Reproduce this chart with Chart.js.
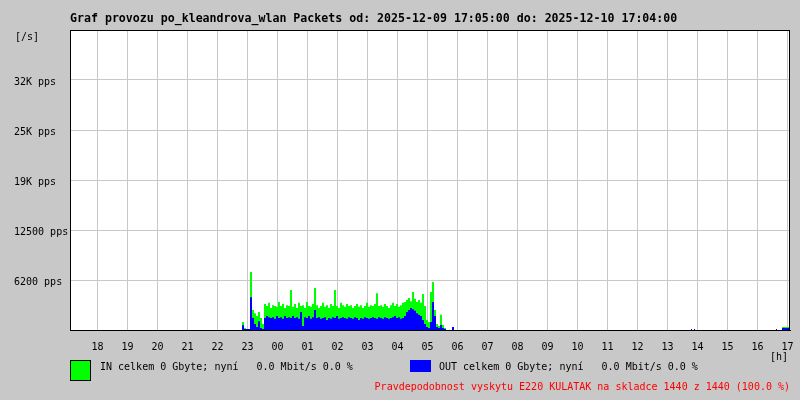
<!DOCTYPE html>
<html lang="cs">
<head>
    <meta charset="UTF-8" />
    <title>Graf provozu po_kleandrova_wlan Packets</title>
    <script src="https://cdn.jsdelivr.net/npm/chart.js"></script>
    <style>
        body {
            margin: 0;
            background-color: #c8c8c8;
        }
        #wrap {
            width: 800px;
            height: 400px;
        }
    </style>
</head>
<body>
    <div id="wrap"><canvas id="trafficChart" width="800" height="400"></canvas></div>

    <script>
        // x axis = minutes since 2025-12-09 17:05
        const hourLabels = ["18", "19", "20", "21", "22", "23", "00", "01", "02", "03", "04", "05",
                            "06", "07", "08", "09", "10", "11", "12", "13", "14", "15", "16", "17"];
        const firstHourMin = 55;

        const yTickValues = [6250, 12500, 18750, 25000, 31250];
        const yTickLabels = ["6200 pps", "12500 pps", "19K pps", "25K pps", "32K pps"];

        // busy period, one sample every 4 minutes starting at minute 340 (22:45)
        const busyStartMin = 340;
        const busyStepMin = 4;
        const inPps = [
            0, 0, 1000, 250, 125, 125, 7250, 2500, 2100, 1750,
            2250, 1500, 750, 3250, 3000, 3400, 2750, 3100, 3000, 2900,
            3500, 3000, 3250, 2750, 3100, 3000, 5000, 2900, 3250, 2750,
            3400, 3000, 3100, 2750, 3500, 3000, 2900, 3250, 5250, 3100,
            2750, 3000, 3400, 2900, 3100, 2750, 3250, 3000, 5000, 3000,
            2750, 3400, 3100, 2900, 3250, 3000, 3100, 2750, 3000, 3250,
            2900, 3100, 2750, 3000, 3400, 2900, 3100, 3000, 3250, 4600,
            3000, 3100, 2900, 3250, 3000, 2750, 3100, 3400, 3000, 3250,
            2900, 3100, 3400, 3500, 3750, 4000, 3600, 4750, 3900, 3500,
            3750, 3400, 4500, 3000, 1250, 1000, 4750, 6000, 2500, 750,
            500, 1900, 625, 250, 0, 0, 0, 250, 0
        ];
        const outPps = [
            0, 0, 600, 125, 125, 125, 4100, 1500, 750, 375,
            1100, 250, 125, 1500, 1750, 1600, 1500, 1600, 1400, 1750,
            1500, 1600, 1400, 1750, 1500, 1600, 1500, 1750, 1500, 1600,
            1400, 2250, 500, 1600, 1500, 1750, 1400, 1600, 2500, 1500,
            1600, 1400, 1500, 1600, 1250, 1500, 1400, 1600, 1500, 1750,
            1400, 1500, 1600, 1500, 1400, 1600, 1500, 1400, 1600, 1500,
            1250, 1500, 1400, 1600, 1500, 1400, 1500, 1600, 1500, 1400,
            1600, 1500, 1400, 1600, 1500, 1400, 1500, 1600, 1750, 1500,
            1600, 1400, 1500, 1750, 2250, 2500, 2750, 2600, 2400, 2100,
            1900, 1750, 1250, 750, 375, 250, 1000, 3500, 1750, 375,
            250, 625, 250, 125, 0, 0, 0, 375, 0
        ];

        // odd samples later in the day
        const tailMin = [1242, 1244, 1248, 1250, 1252, 1412, 1414, 1416, 1424, 1426, 1440];
        const tailIn  = [0, 0, 0, 0, 0, 0, 0, 0, 0, 375, 375];
        const tailOut = [0, 125, 0, 125, 0, 0, 125, 0, 0, 250, 250];

        function buildPoints(busy, tail) {
            const pts = [{ x: 0, y: 0 }];
            busy.forEach((v, i) => pts.push({ x: busyStartMin + i * busyStepMin, y: v }));
            tail.forEach((v, i) => pts.push({ x: tailMin[i], y: v }));
            return pts;
        }

        const monoFont = "'DejaVu Sans Mono', 'Liberation Mono', monospace";

        // background, borders and the free texts around the plot
        const framePlugin = {
            id: "frame",
            beforeDraw(chart) {
                const ctx = chart.ctx;
                const a = chart.chartArea;
                ctx.save();
                ctx.fillStyle = "#c8c8c8";
                ctx.fillRect(0, 0, chart.width, chart.height);
                ctx.fillStyle = "#ffffff";
                ctx.fillRect(a.left, a.top, a.right - a.left, a.bottom - a.top);
                ctx.restore();
            },
            afterDraw(chart) {
                const ctx = chart.ctx;
                const a = chart.chartArea;
                ctx.save();
                ctx.strokeStyle = "#000000";
                ctx.lineWidth = 1;
                ctx.strokeRect(a.left + 0.5, a.top + 0.5, a.right - a.left - 1, a.bottom - a.top);

                ctx.fillStyle = "#000000";
                ctx.textBaseline = "middle";
                ctx.textAlign = "left";
                ctx.font = "bold 11.6px " + monoFont;
                ctx.fillText("Graf provozu po_kleandrova_wlan Packets od: 2025-12-09 17:05:00 do: 2025-12-10 17:04:00", 70, 19);

                ctx.font = "10px " + monoFont;
                ctx.fillText("[/s]", 15, 37);
                ctx.textAlign = "right";
                ctx.fillText("[h]", 788, 357);

                // legend
                ctx.fillStyle = "#00ff00";
                ctx.fillRect(70, 360, 21, 21);
                ctx.strokeRect(70.5, 360.5, 20, 20);
                ctx.fillStyle = "#0000ff";
                ctx.fillRect(410, 360, 21, 12);

                ctx.fillStyle = "#000000";
                ctx.textAlign = "left";
                ctx.fillText("IN celkem 0 Gbyte; nyní   0.0 Mbit/s 0.0 %", 100, 367);
                ctx.fillText("OUT celkem 0 Gbyte; nyní   0.0 Mbit/s 0.0 %", 439, 367);

                ctx.fillStyle = "#ff0000";
                ctx.textAlign = "right";
                ctx.fillText("Pravdepodobnost vyskytu E220 KULATAK na skladce 1440 z 1440 (100.0 %)", 790, 387);
                ctx.restore();
            }
        };

        const ctx = document.getElementById("trafficChart").getContext("2d");

        const trafficChart = new Chart(ctx, {
            type: "line",
            data: {
                datasets: [
                    {
                        label: "OUT",
                        data: buildPoints(outPps, tailOut),
                        backgroundColor: "#0000ff",
                        borderWidth: 0,
                        pointRadius: 0,
                        stepped: "after",
                        fill: "origin",
                        order: 0
                    },
                    {
                        label: "IN",
                        data: buildPoints(inPps, tailIn),
                        backgroundColor: "#00ff00",
                        borderWidth: 0,
                        pointRadius: 0,
                        stepped: "after",
                        fill: "origin",
                        order: 1
                    }
                ]
            },
            options: {
                responsive: false,
                animation: false,
                layout: { padding: { left: 14, top: 30, right: 10, bottom: 0 } },
                plugins: {
                    legend: { display: false },
                    title: { display: false },
                    tooltip: { enabled: false }
                },
                scales: {
                    x: {
                        type: "linear",
                        min: 0,
                        max: 1440,
                        afterBuildTicks: (scale) => {
                            scale.ticks = hourLabels.map((_, i) => ({ value: firstHourMin + i * 60 }));
                        },
                        afterFit: (scale) => {
                            scale.height = 70;
                            scale.paddingLeft = 0;
                            scale.paddingRight = 0;
                        },
                        ticks: {
                            autoSkip: false,
                            maxRotation: 0,
                            padding: 11,
                            color: "#000000",
                            font: { family: monoFont, size: 10 },
                            callback: (value, index) => hourLabels[index]
                        },
                        grid: { color: "#c8c8c8", drawTicks: false, tickLength: 0 },
                        border: { color: "#000000" }
                    },
                    y: {
                        min: 0,
                        max: 37500,
                        afterBuildTicks: (scale) => {
                            scale.ticks = yTickValues.map((v) => ({ value: v }));
                        },
                        afterFit: (scale) => {
                            scale.width = 56;
                            scale.paddingTop = 0;
                            scale.paddingBottom = 0;
                        },
                        ticks: {
                            crossAlign: "far",
                            padding: 0,
                            labelOffset: 2,
                            color: "#000000",
                            font: { family: monoFont, size: 10 },
                            callback: (value, index) => yTickLabels[index]
                        },
                        grid: { color: "#c8c8c8", drawTicks: false, tickLength: 0 },
                        border: { color: "#000000" }
                    }
                }
            },
            plugins: [framePlugin]
        });
    </script>
</body>
</html>
